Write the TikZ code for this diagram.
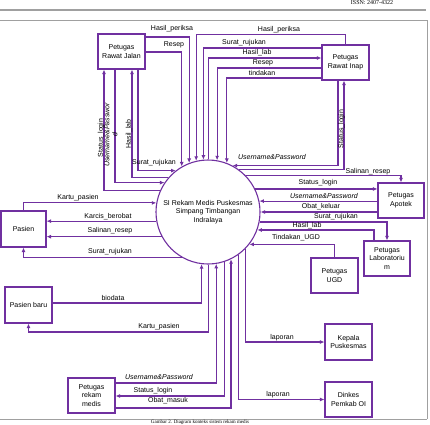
\documentclass[tikz,border=0pt]{standalone}
\usepackage{fontspec}
\setmainfont{Liberation Sans}
\newfontfamily\capfont{Liberation Serif}
\usetikzlibrary{arrows.meta}
\definecolor{pur}{HTML}{7030A0}
\definecolor{frm}{HTML}{A0A0A0}
\begin{document}
\begin{tikzpicture}[x=1pt,y=-1pt,
  box/.style={draw=pur, line width=1.1pt, fill=white, minimum width=47pt, minimum height=35pt, inner sep=0pt, align=center, font=\fontsize{7}{8.5}\selectfont},
  lbl/.style={font=\fontsize{7}{8}\selectfont, inner sep=0pt},
  ilbl/.style={inner sep=0pt, font=\fontsize{7}{8}\selectfont\itshape},
  arr/.style={draw=pur, line width=1.1pt, -{Latex[length=4.5pt,width=4pt]}},
]
\path[use as bounding box] (0,0) rectangle (430,424);
% header and frame
\draw[frm, line width=1.5pt] (0,10) -- (426,10);
\draw[frm, line width=0.8pt] (427,419) -- (0,419);
\draw[frm, line width=0.8pt] (0,20.5) -- (427,20.5) -- (427,419);
\node[font=\capfont\fontsize{6}{7}\selectfont, anchor=north, inner sep=0pt] (hdr) at (372,0.8) {ISSN: 2407-4322};
\node[font=\capfont\fontsize{5}{6}\selectfont, anchor=north, inner sep=0pt] (cap) at (200,419.8) {Gambar 2. Diagram konteks sistem rekam medis};

% process
\node[circle, draw=pur, line width=1.1pt, minimum size=104pt, inner sep=0pt, align=center, font=\fontsize{7}{8.5}\selectfont] (c) at (208,212) {SI Rekam Medis Puskesmas\\Simpang Timbangan\\Indralaya};

% entities
\node[box] (rj) at (121.5,51.5) {Petugas\\Rawat Jalan};
\node[box] (ri) at (345.5,62.5) {Petugas\\Rawat Inap};
\node[box, minimum width=46pt] (ap) at (401,200.5) {Petugas\\Apotek};
\node[box, minimum width=46pt] (lab) at (387,258.5) {Petugas\\Laboratoriu\\m};
\node[box] (ugd) at (334.5,275.5) {Petugas\\UGD};
\node[box, minimum height=36pt] (kp) at (348.5,342) {Kepala\\Puskesmas};
\node[box] (dk) at (348.5,399.5) {Dinkes\\Pemkab OI};
\node[box] (rm) at (91.5,395.5) {Petugas\\rekam\\medis};
\node[box, minimum width=45pt, minimum height=36pt] (ps) at (23.5,229) {Pasien};
\node[box, minimum height=36pt] (pb) at (28.5,305) {Pasien baru};

% Rawat Jalan
\draw[arr] (rj.east |- 0,37) -| (c.111);
\draw[arr] (rj.east |- 0,52) -| (c.120);
\draw[arr] (c.156) -| (rj.south -| 104,0);
\draw[arr] (rj.south -| 115,0) |- (c.146);
\draw[arr] (c.139) -| (rj.south -| 132,0);
\draw[arr] (rj.south -| 138,0) |- (c.128);
\node[lbl] (l1) at (172,29) {Hasil\_periksa};
\node[lbl] (l2) at (174,45) {Resep};
\node[lbl, rotate=90] (l3) at (101,138) {Status\_login};
\node[ilbl, rotate=90, align=center] (l4) at (111,135) {Username\&Passwor\\d};
\node[lbl, rotate=90] (l5) at (129,134) {Hasil\_lab};
\node[lbl] (l6) at (154,163) {Surat\_rujukan};

% Rawat Inap
\draw[arr] (ri.north) -- ++(0,-10) -| (c.103);
\draw[arr] (ri.west |- 0,48) -| (c.95);
\draw[arr] (c.89) |- (ri.west |- 0,58);
\draw[arr] (ri.west |- 0,68) -| (c.80);
\draw[arr] (ri.west |- 0,78) -| (c.69);
\draw[arr] (ri.south -| 338,0) |- (c.62);
\draw[arr] (c.54) -| (ri.south -| 344,0);
\node[lbl] (l7) at (279,30) {Hasil\_periksa};
\node[lbl] (l8) at (244,43) {Surat\_rujukan};
\node[lbl] (l9) at (257,53) {Hasil\_lab};
\node[lbl] (l10) at (263,63) {Resep};
\node[lbl] (l11) at (262,73) {tindakan};
\node[ilbl] (l12) at (272,157) {Username\&Password};
\node[lbl, rotate=90] (l13) at (341.5,129) {Status\_login};

% Apotek, Lab, UGD
\draw[arr] (c.44) -| (ap.north);
\draw[arr] (c.26) -- (ap.west |- c.26);
\draw[arr] (ap.west |- c.12) -- (c.12);
\draw[arr] (ap.west |- c.0) -- (c.0);
\draw[arr] (c.349) -| (lab.north);
\draw[arr] (lab.north -| 374,0) |- (c.340);
\draw[arr] (ugd.north) |- (c.322);
\node[lbl] (l14) at (368,172) {Salinan\_resep};
\node[lbl] (l15) at (318,183) {Status\_login};
\node[ilbl] (l16) at (324,196) {Username\&Password};
\node[lbl] (l17) at (321,207) {Obat\_keluar};
\node[lbl] (l18) at (336,217) {Surat\_rujukan};
\node[lbl] (l19) at (307,226) {Hasil\_lab};
\node[lbl] (l20) at (296,238) {Tindakan\_UGD};

% Pasien
\draw[arr] (ps.north) |- (c.170);
\draw[arr] (c.190) -- (ps.east |- c.190);
\draw[arr] (c.208) -- (ps.east |- c.208);
\draw[arr] (c.240) -| (ps.south);
\node[lbl] (l21) at (78,198) {Kartu\_pasien};
\node[lbl] (l22) at (108,217) {Karcis\_berobat};
\node[lbl] (l23) at (110,231) {Salinan\_resep};
\node[lbl] (l24) at (110,252) {Surat\_rujukan};

% bottom
\draw[arr] (pb.east |- 0,303) -| (c.263);
\draw[arr] (c.271) |- (pb.south |- 0,332) -- (pb.south);
\draw[arr] (rm.east |- 0,383) -| (c.279);
\draw[arr] (c.288) |- (rm.east |- 0,396);
\draw[arr] (rm.east |- 0,408) -| (c.296);
\draw[arr] (c.305) |- (dk.west);
\draw[arr] (c.315) |- (kp.west);
\node[lbl] (l25) at (113,298) {biodata};
\node[lbl] (l26) at (159,327) {Kartu\_pasien};
\node[ilbl] (l27) at (159,377) {Username\&Password};
\node[lbl] (l28) at (153,391) {Status\_login};
\node[lbl] (l29) at (168,401) {Obat\_masuk};
\node[lbl] (l30) at (282,338) {laporan};
\node[lbl] (l31) at (278,395) {laporan};
\end{tikzpicture}
\end{document}
